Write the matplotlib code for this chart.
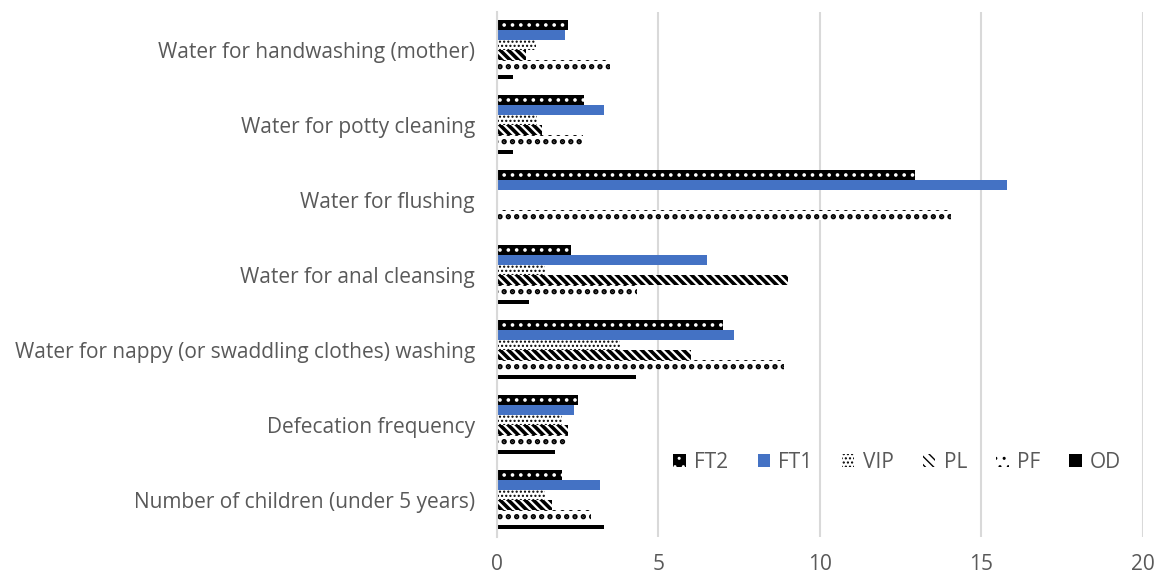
import matplotlib.pyplot as plt
import numpy as np

plt.rcParams['font.family'] = ['Open Sans', 'DejaVu Sans']

categories = ["Number of children (under 5 years)",
              "Defecation frequency",
              "Water for nappy (or swaddling clothes) washing",
              "Water for anal cleansing",
              "Water for flushing",
              "Water for potty cleaning",
              "Water for handwashing (mother)"]

series_names = ["FT2", "FT1", "VIP", "PL", "PF", "OD"]
ft2 = [2.0, 2.5, 7.0, 2.3, 12.95, 2.7, 2.2]
ft1 = [3.2, 2.4, 7.35, 6.5, 15.8, 3.3, 2.1]
vip = [1.5, 2.0, 3.8, 1.5, 0, 1.25, 1.2]
pl = [1.7, 2.2, 6.0, 9.0, 0, 1.4, 0.9]
pf = [2.9, 2.2, 8.9, 4.35, 14.05, 2.65, 3.5]
od = [3.3, 1.8, 4.3, 1.0, 0, 0.5, 0.5]

# (face, hatch colour, hatch, hatch linewidth)
styles = [("black", "white", "..", 1.4),
          ("#4472c4", "#4472c4", None, 1.0),
          ("white", "black", "....", 1.0),
          ("white", "black", "\\\\\\\\", 2.6),
          ("white", "black", "..", 2.6),
          ("black", "black", None, 1.0)]

fig = plt.figure(figsize=(11.59, 5.77), dpi=100)
ax = fig.add_axes([0.4288, 0.069, 0.5572, 0.91])

y = np.arange(len(categories))
w = 0.8 / 6
all_vals = [ft2, ft1, vip, pl, pf, od]
for k, (name, vals) in enumerate(zip(series_names, all_vals)):
    face, hc, hatch, hlw = styles[k]
    pos = y + (2.5 - k) * w
    with plt.rc_context({'hatch.linewidth': hlw}):
        if name == "OD":
            ax.barh(pos - w * 0.25, vals, height=w * 0.45, color=face,
                    linewidth=0, label=name)
        else:
            ax.barh(pos, vals, height=w, facecolor=face, edgecolor=hc,
                    hatch=hatch, linewidth=0, label=name)

ax.set_xlim(0, 20)
ax.set_ylim(-0.5, 6.5)
ax.set_xticks([0, 5, 10, 15, 20])
ax.set_yticks(y)
ax.set_yticklabels(categories)
ax.tick_params(axis='both', length=0, labelsize=15, colors="#595959")
ax.tick_params(axis='y', pad=16)
ax.tick_params(axis='x', pad=12)
ax.xaxis.grid(True, color="#d9d9d9", linewidth=1.5)
ax.set_axisbelow(True)
for s in ["top", "right", "bottom"]:
    ax.spines[s].set_visible(False)
ax.spines["left"].set_color("#d9d9d9")
ax.spines["left"].set_linewidth(1.5)

ax.legend(loc='center', bbox_to_anchor=(0.62, 0.143), ncol=6, frameon=False,
          fontsize=15, labelcolor="#595959", handlelength=0.6, handleheight=0.6,
          columnspacing=1.4, handletextpad=0.4)

fig.savefig("out.png", dpi=100)
